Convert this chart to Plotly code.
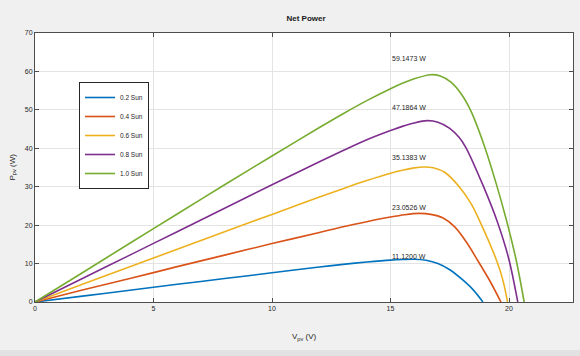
import plotly.graph_objects as go

# ---- data ----
series_names = ["0.2 Sun", "0.4 Sun", "0.6 Sun", "0.8 Sun", "1.0 Sun"]
series_colors = ["#0072BD", "#D95319", "#EDB120", "#7E2F8E", "#77AC30"]

v_02 = [0, 2, 4, 6, 8, 10, 12, 13, 14, 15, 15.5, 16.0, 16.5, 17.0, 17.5, 18.0, 18.5, 18.9]
p_02 = [0, 1.53, 3.06, 4.6, 6.1, 7.6, 9.1, 9.8, 10.4, 10.9, 11.05, 11.12, 10.85, 10.0, 8.4, 6.0, 3.1, 0]

v_04 = [0, 2, 4, 6, 8, 10, 12, 13, 14, 15, 15.6, 16.2, 16.7, 17.2, 17.7, 18.2, 18.7, 19.2, 19.66]
p_04 = [0, 3.1, 6.1, 9.2, 12.2, 15.2, 18.1, 19.6, 20.9, 22.1, 22.7, 23.05, 22.8, 21.9, 19.6, 15.6, 10.6, 5.4, 0]

v_06 = [0, 2, 4, 6, 8, 10, 12, 13, 14, 15, 15.5, 16.0, 16.4, 16.8, 17.3, 17.9, 18.4, 18.8, 19.5, 19.75, 19.94]
p_06 = [0, 4.6, 9.2, 13.7, 18.3, 22.8, 27.3, 29.5, 31.6, 33.5, 34.3, 34.9, 35.14, 34.95, 33.7, 30.0, 25.6, 20.6, 10.4, 5.5, 0]

v_08 = [0, 2, 4, 6, 8, 10, 12, 13, 14, 15, 15.5, 16.0, 16.55, 17.0, 17.5, 17.9, 18.18, 18.9, 19.5, 20.0, 20.37]
p_08 = [0, 6.1, 12.2, 18.3, 24.4, 30.5, 36.5, 39.4, 42.2, 44.6, 45.7, 46.6, 47.19, 46.8, 45.2, 42.8, 40.2, 30.4, 21.0, 11.0, 0]

v_10 = [0, 2, 4, 6, 8, 10, 12, 13, 14, 15, 15.5, 16.0, 16.7, 17.1, 17.55, 18.0, 18.4, 18.96, 19.45, 19.87, 20.3, 20.64]
p_10 = [0, 7.6, 15.3, 22.9, 30.5, 38.0, 45.4, 49.0, 52.4, 55.5, 56.9, 58.1, 59.15, 58.8, 57.2, 54.0, 49.6, 40.6, 31.0, 21.8, 11.0, 0]

peak_values = [11.12, 23.0526, 35.1383, 47.1864, 59.1473]
peak_labels = ["11.1200 W", "23.0526 W", "35.1383 W", "47.1864 W", "59.1473 W"]

x_ticks = [0, 5, 10, 15, 20]
y_ticks = [0, 10, 20, 30, 40, 50, 60, 70]

voltages = [v_02, v_04, v_06, v_08, v_10]
powers = [p_02, p_04, p_06, p_08, p_10]

FONT = "Liberation Sans"
AX = "#4d4d4d"
TXT = "#262626"
BG = "#f0f0f0"

fig = go.Figure()
for name, col, vv, pp in zip(series_names, series_colors, voltages, powers):
    fig.add_trace(go.Scatter(
        x=vv, y=pp, mode="lines", name=name,
        line=dict(color=col, width=1.6, shape="spline", smoothing=0.8),
    ))

annotations = []
for val, lab in zip(peak_values, peak_labels):
    annotations.append(dict(
        x=15.8, y=val * 1.07, xref="x", yref="y", text=lab, showarrow=False,
        xanchor="center", yanchor="middle",
        font=dict(family=FONT, size=7, color=TXT),
    ))

# axis titles placed as paper annotations (plot area: 538 x 269 px)
annotations.append(dict(
    x=0.5, y=-35 / 269, xref="paper", yref="paper", text="V<sub>pv</sub> (V)",
    showarrow=False, xanchor="center", yanchor="middle",
    font=dict(family=FONT, size=8, color=TXT),
))
annotations.append(dict(
    x=-23 / 538, y=0.5, xref="paper", yref="paper", text="P<sub>pv</sub> (W)",
    showarrow=False, xanchor="center", yanchor="middle", textangle=-90,
    font=dict(family=FONT, size=8, color=TXT),
))

fig.update_layout(
    width=580, height=356,
    margin=dict(l=35, r=7, t=33, b=54, autoexpand=False),
    paper_bgcolor=BG,
    plot_bgcolor="#ffffff",
    title=dict(text="<b>Net Power</b>", x=306 / 580, xanchor="center",
               y=1 - 18 / 356, yanchor="middle", yref="container",
               font=dict(family=FONT, size=8, color="#1a1a1a")),
    font=dict(family=FONT, size=7, color=TXT),
    showlegend=True,
    legend=dict(
        x=44 / 538, y=(302 - 82) / 269, xanchor="left", yanchor="top",
        bgcolor="#ffffff", bordercolor=TXT, borderwidth=1,
        font=dict(family=FONT, size=6.5, color=TXT),
        tracegroupgap=0, itemwidth=30,
    ),
    annotations=annotations,
)

fig.update_xaxes(
    range=[0, 22.7], tickvals=x_ticks, ticktext=[str(t) for t in x_ticks],
    showgrid=True, gridcolor="#e4e4e4", gridwidth=1, zeroline=False,
    showline=True, linecolor=AX, linewidth=1, mirror="ticks",
    ticks="inside", ticklen=4, tickcolor=AX, automargin=False,
    tickfont=dict(family=FONT, size=7, color=TXT),
)
fig.update_yaxes(
    range=[0, 70], tickvals=y_ticks, ticktext=[str(t) for t in y_ticks],
    showgrid=True, gridcolor="#e4e4e4", gridwidth=1, zeroline=False,
    showline=True, linecolor=AX, linewidth=1, mirror="ticks",
    ticks="inside", ticklen=4, tickcolor=AX, automargin=False,
    tickfont=dict(family=FONT, size=7, color=TXT),
)

# bottom darker strip of the figure window
fig.add_shape(type="rect", xref="paper", yref="paper",
              x0=-0.07, x1=1.02, y0=-0.2007, y1=-0.178,
              fillcolor="#e2e2e2", line=dict(width=0), layer="below")

# remove the default page margin so the figure sits at the window's top-left corner
page_js = ("document.body.style.margin='0';"
           "document.body.style.padding='0';"
           "document.body.style.background='" + BG + "';"
           "document.body.style.overflow='hidden';")

fig.write_html("out.html", post_script=page_js,
               config={"displayModeBar": False})
